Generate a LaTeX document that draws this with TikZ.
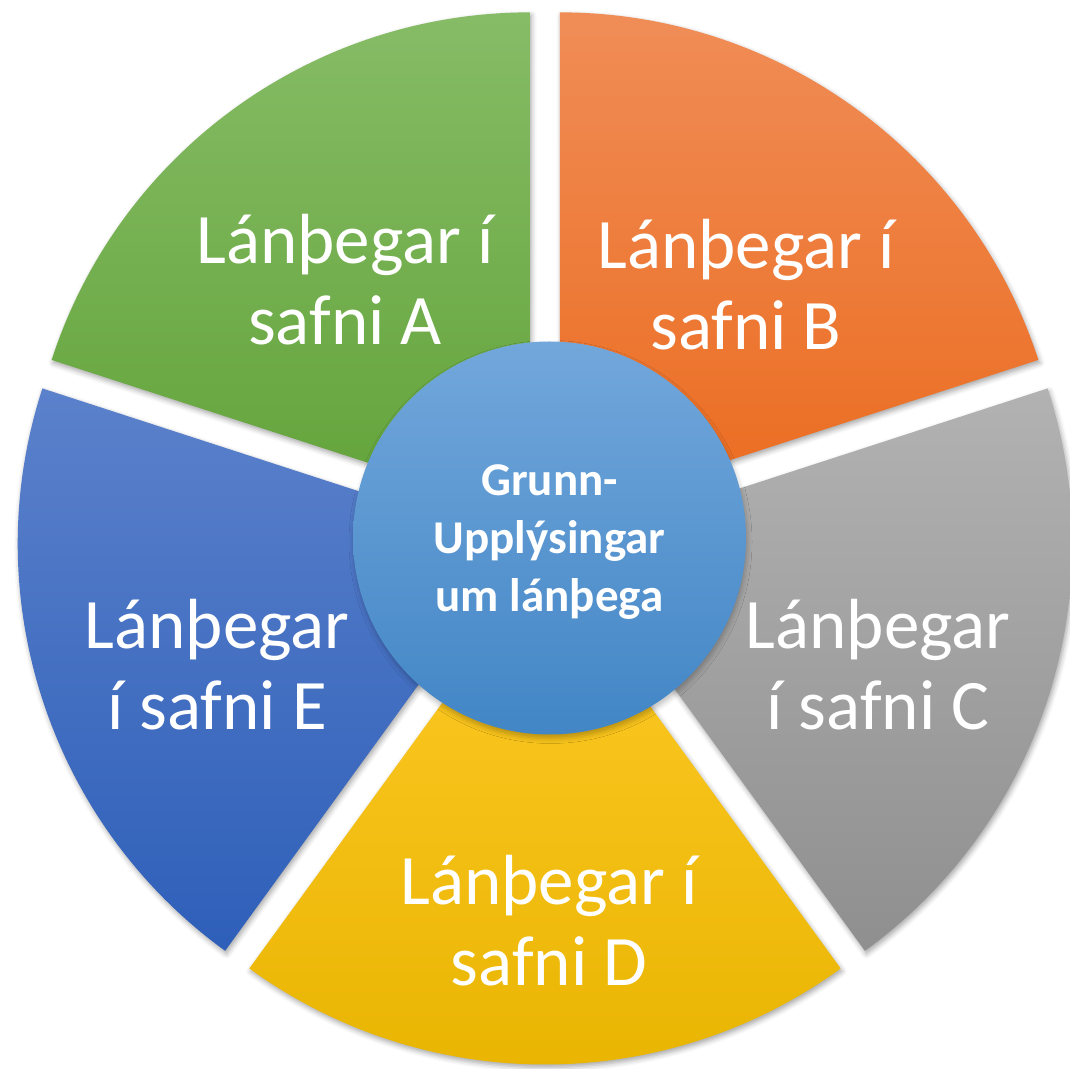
\documentclass[tikz,border=0pt]{standalone}
\usepackage{fontspec}
\setmainfont{Carlito}
\usetikzlibrary{calc,shadows.blur}
\definecolor{aTop}{HTML}{86BC66}
\definecolor{aBot}{HTML}{62A339}
\definecolor{bTop}{HTML}{F08D57}
\definecolor{bBot}{HTML}{EB6B1E}
\definecolor{cTop}{HTML}{B2B2B2}
\definecolor{cBot}{HTML}{8F8F8F}
\definecolor{dTop}{HTML}{FFCA28}
\definecolor{dBot}{HTML}{E8B400}
\definecolor{eTop}{HTML}{5B81CB}
\definecolor{eBot}{HTML}{2E5FB9}
\definecolor{hubTop}{HTML}{72A7DB}
\definecolor{hubBot}{HTML}{4286C6}
\begin{document}
\begin{tikzpicture}[x=1pt,y=1pt,
  seg/.style={blur shadow={shadow xshift=1.5pt, shadow yshift=-3pt, shadow blur radius=5pt, shadow opacity=35}},
  lab/.style={text=white, font=\fontsize{71}{81}\selectfont, align=center, anchor=base, inner sep=0pt},
  hubbox/.style={circle, minimum size=393pt, inner sep=0pt, top color=hubTop, bottom color=hubBot,
    blur shadow={shadow xshift=1pt, shadow yshift=-4pt, shadow blur radius=5pt, shadow opacity=25}},
  hublab/.style={text=white, font=\fontsize{47}{58}\selectfont\bfseries, align=center, anchor=base, inner sep=0pt}]
\useasboundingbox (0,0) rectangle (1070,1068);
\coordinate (O) at (545,532);
% segments
\path[seg, top color=aTop, bottom color=aBot] ($(O)+(126:25.5)$) -- ++(90:503pt) arc[start angle=90, end angle=162, radius=503pt] -- cycle;
\path[seg, top color=bTop, bottom color=bBot] ($(O)+(54:25.5)$) -- ++(18:503pt) arc[start angle=18, end angle=90, radius=503pt] -- cycle;
\path[seg, top color=cTop, bottom color=cBot] ($(O)+(-18:25.5)$) -- ++(-54:503pt) arc[start angle=-54, end angle=18, radius=503pt] -- cycle;
\path[seg, top color=dTop, bottom color=dBot] ($(O)+(-90:25.5)$) -- ++(-126:503pt) arc[start angle=-126, end angle=-54, radius=503pt] -- cycle;
\path[seg, top color=eTop, bottom color=eBot] ($(O)+(198:25.5)$) -- ++(162:503pt) arc[start angle=162, end angle=234, radius=503pt] -- cycle;
% labels (anchor = baseline of last line)
\node[lab] (tA) at (345,723) {Lánþegar í\\safni A};
\node[lab] (tB) at (746,718) {Lánþegar í\\safni B};
\node[lab] (tC) at (878,338) {Lánþegar\\í safni C};
\node[lab] (tD) at (549,83) {Lánþegar í\\safni D};
\node[lab] (tE) at (217,338) {Lánþegar\\í safni E};
% hub
\node[hubbox] (hub) at (549.5,530) {};
\node[hublab] (hubtxt) at (549.5,456) {Grunn-\\Upplýsingar\\um lánþega};
\end{tikzpicture}
\end{document}
